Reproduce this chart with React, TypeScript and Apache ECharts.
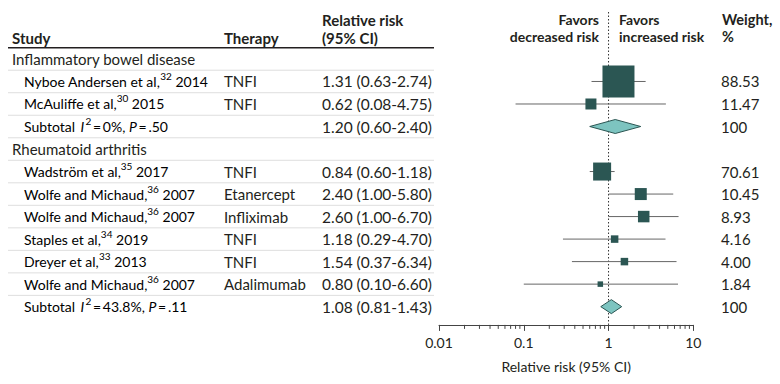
import React, { useEffect, useRef } from "react";
import * as echarts from "echarts";

// ---------- data ----------
const rowKinds = ["group", "study", "study", "subtotal", "group", "study", "study", "study", "study", "study", "study", "subtotal"];
const studyNames = [
  "Inflammatory bowel disease",
  "Nyboe Andersen et al,",
  "McAuliffe et al,",
  "Subtotal",
  "Rheumatoid arthritis",
  "Wadström et al,",
  "Wolfe and Michaud,",
  "Wolfe and Michaud,",
  "Staples et al,",
  "Dreyer et al,",
  "Wolfe and Michaud,",
  "Subtotal",
];
const refNums = ["", "32", "30", "", "", "35", "36", "36", "34", "33", "36", ""];
const years = ["", "2014", "2015", "", "", "2017", "2007", "2007", "2019", "2013", "2007", ""];
const therapies = ["", "TNFI", "TNFI", "", "", "TNFI", "Etanercept", "Infliximab", "TNFI", "TNFI", "Adalimumab", ""];
const rr: (number | null)[] = [null, 1.31, 0.62, 1.2, null, 0.84, 2.4, 2.6, 1.18, 1.54, 0.8, 1.08];
const ciLow: (number | null)[] = [null, 0.63, 0.08, 0.6, null, 0.6, 1.0, 1.0, 0.29, 0.37, 0.1, 0.81];
const ciHigh: (number | null)[] = [null, 2.74, 4.75, 2.4, null, 1.18, 5.8, 6.7, 4.7, 6.34, 6.6, 1.43];
const weights = ["", "88.53", "11.47", "100", "", "70.61", "10.45", "8.93", "4.16", "4.00", "1.84", "100"];
const subtotalI2 = ["0%", "43.8%"];
const subtotalP = [".50", ".11"];
const tickLabels = ["0.01", "0.1", "1", "10"];
const minorTicks = [0.02, 0.03, 0.04, 0.05, 0.06, 0.07, 0.08, 0.09, 0.2, 0.3, 0.4, 0.5, 0.6, 0.7, 0.8, 0.9, 2, 3, 4, 5, 6, 7, 8, 9];

// ---------- style ----------
const BOX_SIDE = [0, 32, 11, 0, 0, 18, 12, 11.5, 7.5, 7.5, 5.5, 0];
const FONT = 'Lato, "Noto Sans", sans-serif';
const FS_GROUP = 15;
const FS_STUDY = 14;
const FS_THERAPY = 15;
const FS_RR = 15.5;
const FS_WEIGHT = 15;
const TXT = "#231f20";
const SQUARE = "#2b5653";
const DIAMOND = "#7dc4c0";
const WHISKER = "#666666";
const AXIS_OFFSET = 7;

const fmtCI = (i: number) =>
  `${(rr[i] as number).toFixed(2)} (${(ciLow[i] as number).toFixed(2)}-${(ciHigh[i] as number).toFixed(2)})`;

export default function App() {
  const ref = useRef<HTMLDivElement>(null);

  useEffect(() => {
    if (!ref.current) return;
    const chart = echarts.init(ref.current, undefined, { renderer: "svg" });
    const rows = rowKinds.map((_, i) => String(i));

    const rich = {
      n: { fontSize: FS_STUDY, fontFamily: FONT, color: TXT, lineHeight: 21 },
      it: { fontSize: FS_STUDY, fontFamily: FONT, fontStyle: "italic", color: TXT, lineHeight: 21 },
      s: { fontSize: 10, fontFamily: FONT, color: TXT, verticalAlign: "top", lineHeight: 12 },
    };

    let subIdx = 0;
    const subtotalOrder: Record<number, number> = {};
    rowKinds.forEach((k, i) => {
      if (k === "subtotal") subtotalOrder[i] = subIdx++;
    });

    const hdr = (text: string, x: number, y: number, size: number, align = "left") => ({
      type: "text",
      x,
      y,
      style: { text, font: `bold ${size}px ${FONT}`, fill: TXT, align, verticalAlign: "middle" },
    });

    const cell = (text: string, x: number, y: number, size: number) => ({
      type: "text",
      x,
      y,
      style: { text, font: `${size}px ${FONT}`, fill: TXT, verticalAlign: "middle" },
    });

    const option: any = {
      animation: false,
      grid: { left: 439, right: 86.7, top: 47.7, bottom: 66.1 },
      xAxis: {
        type: "log",
        logBase: 10,
        min: 0.01,
        max: 10,
        offset: AXIS_OFFSET,
        splitLine: { show: false },
        axisLine: { show: true, lineStyle: { color: "#444", width: 1 } },
        axisTick: { show: true, length: 6, lineStyle: { color: "#444" } },
        minorTick: { show: false },
        axisLabel: {
          margin: 11,
          fontSize: 14,
          fontFamily: FONT,
          color: TXT,
          formatter: (v: number) => tickLabels[Math.round(Math.log10(v)) + 2] ?? "",
        },
        name: "Relative risk (95% CI)",
        nameLocation: "middle",
        nameGap: 35,
        nameTextStyle: { fontSize: 14, fontFamily: FONT, color: TXT },
      },
      yAxis: {
        type: "category",
        data: rows,
        inverse: true,
        show: false,
      },
      graphic: [
        hdr("Study", 12, 38, 15),
        hdr("Therapy", 224, 38, 15),
        hdr("Relative risk", 322, 20, 15),
        hdr("(95% CI)", 322, 38, 15),
        hdr("Favors", 599, 19.5, 14, "right"),
        hdr("decreased risk", 599, 36, 14, "right"),
        hdr("Favors", 619, 19.5, 14),
        hdr("increased risk", 619, 36, 14),
        hdr("Weight,", 722, 19.5, 14.5),
        hdr("%", 722, 36, 14.5),
      ],
      series: [
        // table text + separators
        {
          type: "custom",
          name: "table",
          coordinateSystem: "cartesian2d",
          silent: true,
          clip: false,
          z: 1,
          data: rowKinds.map((_, i) => [1, i]),
          renderItem: (params: any, api: any) => {
            const i = params.dataIndex;
            const y = api.coord([1, i])[1];
            const band = api.coord([1, 1])[1] - api.coord([1, 0])[1];
            const kind = rowKinds[i];
            const children: any[] = [];
            children.push({
              type: "line",
              shape: { x1: 8, y1: y - band / 2, x2: 434, y2: y - band / 2 },
              style: i === 0 ? { stroke: "#231f20", lineWidth: 1.5 } : { stroke: "#dedede", lineWidth: 1 },
            });
            if (kind === "group") {
              children.push(cell(studyNames[i], 12, y, FS_GROUP));
            } else if (kind === "study") {
              children.push({
                type: "text",
                x: 24,
                y,
                style: {
                  text: `{n|${studyNames[i]}}{s|${refNums[i]}}{n| ${years[i]}}`,
                  rich,
                  verticalAlign: "middle",
                },
              });
            } else {
              const k = subtotalOrder[i];
              children.push({
                type: "text",
                x: 24,
                y,
                style: {
                  text: `{n|${studyNames[i]}\u2009 }{it|I}{s|\u20092}{n|\u2009=\u2009${subtotalI2[k]}, }{it|P}{n|\u2009=\u2009${subtotalP[k]}}`,
                  rich,
                  verticalAlign: "middle",
                },
              });
            }
            if (therapies[i]) children.push(cell(therapies[i], 224, y, FS_THERAPY));
            if (rr[i] != null) children.push(cell(fmtCI(i), 322, y, FS_RR));
            if (weights[i]) children.push(cell(weights[i], 721, y, FS_WEIGHT));
            return { type: "group", children };
          },
        },
        // reference dotted line at RR = 1
        {
          type: "custom",
          name: "ref",
          coordinateSystem: "cartesian2d",
          silent: true,
          clip: false,
          z: 2,
          data: [[1, rowKinds.length - 1]],
          renderItem: (params: any, api: any) => {
            const p = api.coord([1, rowKinds.length - 1]);
            const band = api.coord([1, 1])[1] - api.coord([1, 0])[1];
            const bottom = p[1] + band / 2 + AXIS_OFFSET;
            return {
              type: "line",
              shape: { x1: p[0], y1: 12, x2: p[0], y2: bottom },
              style: { stroke: "#333", lineWidth: 1, lineDash: [1.5, 2] },
            };
          },
        },
        // minor ticks
        {
          type: "custom",
          name: "minor",
          coordinateSystem: "cartesian2d",
          silent: true,
          clip: false,
          z: 2,
          data: minorTicks.map((v) => [v, rowKinds.length - 1]),
          renderItem: (params: any, api: any) => {
            const p = api.coord([api.value(0), rowKinds.length - 1]);
            const band = api.coord([1, 1])[1] - api.coord([1, 0])[1];
            const yAx = p[1] + band / 2 + AXIS_OFFSET;
            return {
              type: "line",
              shape: { x1: p[0], y1: yAx, x2: p[0], y2: yAx + 4 },
              style: { stroke: "#444", lineWidth: 1 },
            };
          },
        },
        // estimates
        {
          type: "custom",
          name: "estimates",
          coordinateSystem: "cartesian2d",
          silent: true,
          clip: false,
          z: 3,
          data: rowKinds
            .map((k, i) => (rr[i] != null ? [rr[i], i, ciLow[i], ciHigh[i]] : null))
            .filter((d) => d !== null),
          renderItem: (params: any, api: any) => {
            const v = api.value(0);
            const idx = api.value(1);
            const lo = api.value(2);
            const hi = api.value(3);
            const c = api.coord([v, idx]);
            const l = api.coord([lo, idx]);
            const h = api.coord([hi, idx]);
            if (rowKinds[idx] === "subtotal") {
              const hh = 7;
              return {
                type: "polygon",
                shape: { points: [[l[0], c[1]], [c[0], c[1] - hh], [h[0], c[1]], [c[0], c[1] + hh]] },
                style: { fill: DIAMOND, stroke: SQUARE, lineWidth: 1 },
              };
            }
            const s = BOX_SIDE[idx];
            return {
              type: "group",
              children: [
                {
                  type: "line",
                  shape: { x1: l[0], y1: c[1], x2: h[0], y2: c[1] },
                  style: { stroke: WHISKER, lineWidth: 1 },
                },
                {
                  type: "rect",
                  shape: { x: c[0] - s / 2, y: c[1] - s / 2, width: s, height: s },
                  style: { fill: SQUARE },
                },
              ],
            };
          },
        },
      ],
    };

    chart.setOption(option);
    return () => chart.dispose();
  }, []);

  return <div ref={ref} style={{ position: "fixed", left: 0, top: 0, width: 780, height: 384, background: "#fff" }} />;
}
